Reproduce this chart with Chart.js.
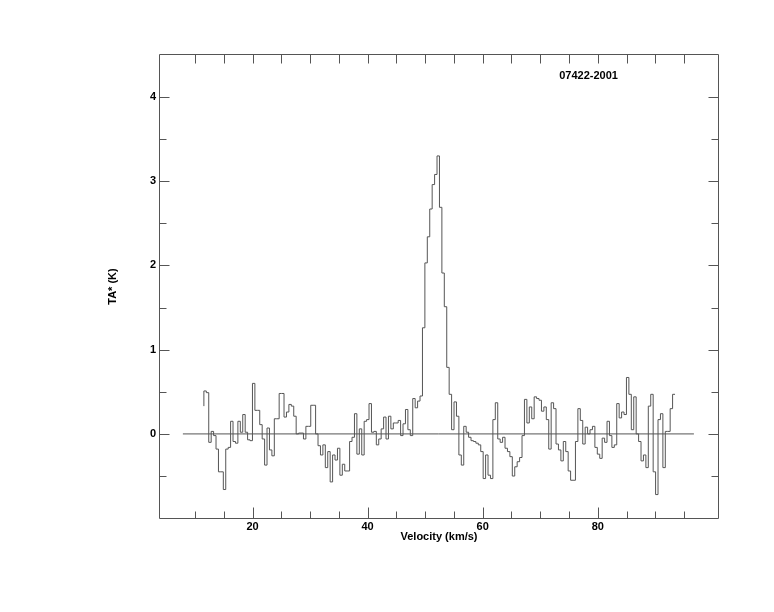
<!DOCTYPE html>
<html>
<head>
<meta charset="utf-8">
<title>07422-2001</title>
<script src="https://cdn.jsdelivr.net/npm/chart.js@4.4.1/dist/chart.umd.min.js"></script>
<style>
    html, body { margin: 0; padding: 0; background: #fff; }
    #wrap { position: relative; width: 774px; height: 612px; }
</style>
</head>
<body>
<div id="wrap"><canvas id="spectrum"></canvas></div>
<script>
(function () {
    // TA* (K) per channel, low to high velocity.
    // first value is the level at the left edge of the first channel
    var taBlueWing = [
        0.33,
        0.51, 0.49, -0.10, 0.03, -0.02, -0.18, -0.45, -0.45, -0.66, -0.18,
        -0.16, 0.15, -0.09, -0.11, 0.15, 0.02, 0.23, 0.02, -0.07, -0.08,
        0.60, 0.28, 0.28, 0.11, -0.06, -0.37, 0.07, -0.19, -0.26, 0.18,
        0.18, 0.48, 0.48, 0.20, 0.26, 0.35, 0.33, 0.21, 0.00, 0.01,
        0.01, -0.06, 0.09, 0.09, 0.34, 0.34, 0.00, -0.14, -0.25, -0.13,
        -0.40, -0.21, -0.57, -0.25, -0.31, -0.17, -0.49, -0.36, -0.44, -0.44,
        -0.09, -0.04, 0.24, -0.24, 0.06, -0.25, 0.15, 0.17, 0.36, 0.02,
        0.03, -0.13, -0.06, 0.06, 0.20, -0.06, 0.21, 0.06, 0.13, 0.13,
        0.16, -0.02, 0.12, 0.29, 0.05, -0.02, 0.42, 0.31, 0.39, 0.45
    ];
    var taLine = [1.26, 2.03, 2.34, 2.67, 2.96, 3.08, 3.30, 2.69, 1.91, 1.51, 0.79, 0.47];
    var taRedWing = [
        0.05, 0.38, 0.21, -0.25, -0.37, 0.09, 0.02, -0.04, -0.08, -0.09,
        -0.11, -0.13, -0.21, -0.53, -0.25, -0.49, -0.53, 0.17, 0.37, -0.06,
        -0.10, -0.04, -0.17, -0.21, -0.27, -0.50, -0.39, -0.33, -0.28, -0.02,
        0.41, 0.13, 0.32, 0.18, 0.44, 0.42, 0.40, 0.27, 0.32, 0.17,
        -0.18, 0.37, 0.30, -0.12, -0.19, -0.32, -0.09, -0.21, -0.44, -0.55,
        -0.55, -0.09, 0.30, 0.16, -0.12, 0.08, 0.00, 0.05, 0.09, -0.16,
        -0.24, -0.29, -0.05, -0.10, 0.15, -0.02, -0.16, -0.13, 0.36, 0.19,
        0.26, 0.23, 0.67, 0.47, 0.05, 0.44, 0.00, -0.09, -0.32, -0.25,
        -0.40, 0.33, 0.47, -0.45, -0.72, 0.17, 0.24, -0.40, 0.03, 0.03,
        0.30, 0.47
    ];

    var firstChannelEdge = 11.55;   // km/s
    var channelWidth = 0.422;       // km/s
    var baselineEnds = [7.9, 96.7];

    var xTickLabels = [20, 40, 60, 80];
    var yTickLabels = [0, 1, 2, 3, 4];
    var xMinorTicks = [10, 15, 20, 25, 30, 35, 40, 45, 50, 55, 60, 65, 70, 75, 80, 85, 90, 95];
    var yMinorTicks = [-0.5, 0, 0.5, 1, 1.5, 2, 2.5, 3, 3.5, 4];

    var sourceName = '07422-2001';
    var xTitle = 'Velocity (km/s)';
    var yTitle = 'TA* (K)';

    var lineColor = '#555';
    var labelFont = 'bold 11px "Liberation Sans", Arial, sans-serif';

    var ta = taBlueWing.concat(taLine, taRedWing);
    var spectrum = ta.map(function (t, i) {
        return { x: firstChannelEdge + i * channelWidth, y: t };
    });
    var baseline = baselineEnds.map(function (v) { return { x: v, y: 0 }; });

    function fixedTicks(values) {
        return function (scale) {
            scale.ticks = values.map(function (v) { return { value: v }; });
        };
    }

    var frameAndTicks = {
        id: 'frameAndTicks',
        afterDatasetsDraw: function (chart) {
            var ctx = chart.ctx;
            var a = chart.chartArea;
            var xs = chart.scales.x;
            var ys = chart.scales.y;
            var left = Math.round(a.left) + 0.5;
            var right = Math.round(a.right) - 0.5;
            var top = Math.round(a.top) + 0.5;
            var bottom = Math.round(a.bottom) - 0.5;

            ctx.save();
            ctx.strokeStyle = lineColor;
            ctx.lineWidth = 1;
            ctx.beginPath();
            ctx.rect(left, top, right - left, bottom - top);
            xMinorTicks.forEach(function (v) {
                var px = Math.round(xs.getPixelForValue(v)) + 0.5;
                var major = xTickLabels.indexOf(v) !== -1;
                ctx.moveTo(px, bottom);
                ctx.lineTo(px, bottom - (major ? 11 : 7));
                ctx.moveTo(px, top);
                ctx.lineTo(px, top + 9);
            });
            yMinorTicks.forEach(function (v) {
                var py = Math.round(ys.getPixelForValue(v)) + 0.5;
                var len = yTickLabels.indexOf(v) !== -1 ? 10 : 7;
                ctx.moveTo(left, py);
                ctx.lineTo(left + len, py);
                ctx.moveTo(right, py);
                ctx.lineTo(right - len, py);
            });
            ctx.stroke();

            ctx.fillStyle = '#000';
            ctx.font = labelFont;
            ctx.textBaseline = 'middle';
            ctx.textAlign = 'center';
            ctx.fillText(xTitle, (a.left + a.right) / 2, a.bottom + 18);

            ctx.textAlign = 'left';
            ctx.fillText(sourceName, xs.getPixelForValue(73.3), ys.getPixelForValue(4.25));

            ctx.translate(113, (a.top + a.bottom) / 2);
            ctx.rotate(-Math.PI / 2);
            ctx.textAlign = 'center';
            ctx.fillText(yTitle, 0, 0);
            ctx.restore();
        }
    };

    function initChart() {
        var canvas = document.getElementById('spectrum');
        if (!canvas || !window.Chart) {
            return;
        }

        new Chart(canvas.getContext('2d'), {
            type: 'line',
            data: {
                datasets: [{
                    label: sourceName,
                    data: spectrum,
                    stepped: 'after',
                    borderColor: lineColor,
                    borderWidth: 1,
                    pointRadius: 0,
                    fill: false
                }, {
                    label: 'baseline',
                    data: baseline,
                    borderColor: lineColor,
                    borderWidth: 1,
                    pointRadius: 0,
                    fill: false
                }]
            },
            options: {
                responsive: true,
                maintainAspectRatio: false,
                animation: false,
                events: [],
                layout: { padding: { top: 54, right: 55, left: 0, bottom: 0 } },
                plugins: {
                    legend: { display: false },
                    tooltip: { enabled: false }
                },
                scales: {
                    x: {
                        type: 'linear',
                        min: 3.75,
                        max: 101.06,
                        grid: { display: false, drawTicks: false },
                        border: { display: false },
                        afterBuildTicks: fixedTicks(xTickLabels),
                        afterFit: function (scale) { scale.height = 93; },
                        ticks: {
                            color: '#000',
                            padding: 1,
                            maxRotation: 0,
                            font: { family: '"Liberation Sans", Arial, sans-serif', size: 11, weight: 'bold' }
                        }
                    },
                    y: {
                        type: 'linear',
                        min: -1.01,
                        max: 4.51,
                        grid: { display: false, drawTicks: false },
                        border: { display: false },
                        afterBuildTicks: fixedTicks(yTickLabels),
                        afterFit: function (scale) { scale.width = 159; },
                        ticks: {
                            color: '#000',
                            padding: 3,
                            font: { family: '"Liberation Sans", Arial, sans-serif', size: 11, weight: 'bold' }
                        }
                    }
                }
            },
            plugins: [frameAndTicks]
        });
    }

    if (document.readyState === 'loading') {
        document.addEventListener('DOMContentLoaded', initChart);
    } else {
        initChart();
    }
})();
</script>
</body>
</html>
